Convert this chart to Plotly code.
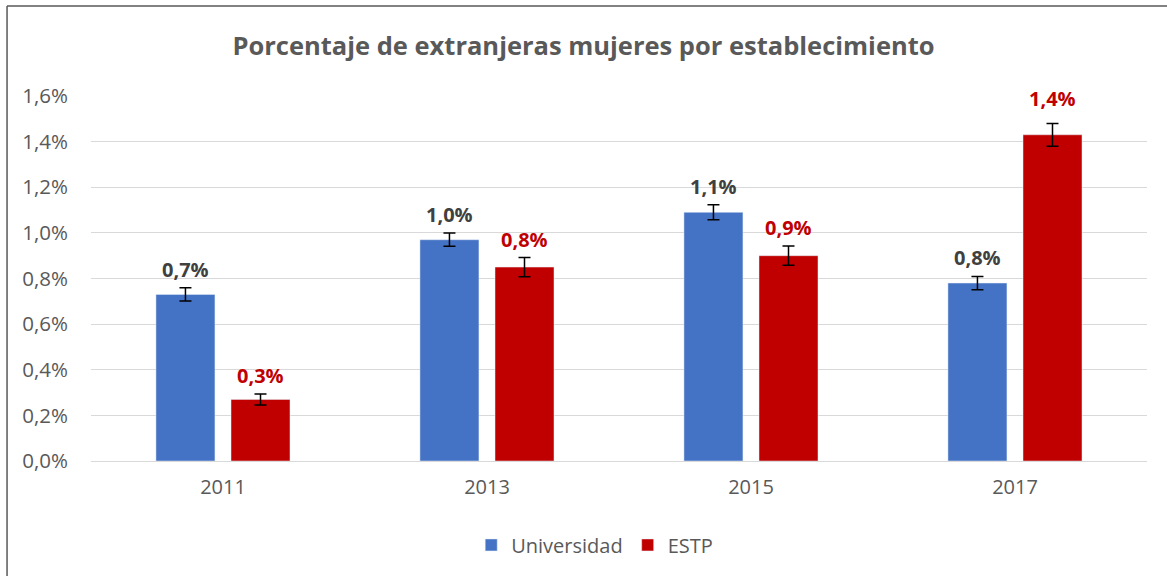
import plotly.graph_objects as go

years = ["2011", "2013", "2015", "2017"]
universidad = [0.0073, 0.0097, 0.0109, 0.0078]
estp = [0.0027, 0.0085, 0.0090, 0.0143]
err_univ = [0.00029, 0.00029, 0.00033, 0.00029]
err_estp = [0.00024, 0.00042, 0.00042, 0.00050]
label_univ = ["0,7%", "1,0%", "1,1%", "0,8%"]
label_estp = ["0,3%", "0,8%", "0,9%", "1,4%"]

BLUE = "#4472C4"
RED = "#C00000"
GREY_TXT = "#595959"
FONT = "Open Sans"

xs = list(range(len(years)))
bar_w = 0.2235
off_u = -0.254
off_e = 0.0303

fig = go.Figure()
fig.add_trace(go.Bar(
    x=xs, y=universidad, name="Universidad", marker_color=BLUE,
    width=bar_w, offset=off_u,
    error_y=dict(type="data", array=err_univ, color="black", thickness=1.5, width=6),
))
fig.add_trace(go.Bar(
    x=xs, y=estp, name="ESTP", marker_color=RED,
    width=bar_w, offset=off_e,
    error_y=dict(type="data", array=err_estp, color="black", thickness=1.5, width=6),
))

for i in xs:
    fig.add_annotation(x=i + off_u + bar_w / 2, y=universidad[i] + err_univ[i],
                       text=f"<b>{label_univ[i]}</b>", showarrow=False,
                       yanchor="bottom", yshift=3,
                       font=dict(family=FONT, size=20, color="#404040"))
    fig.add_annotation(x=i + off_e + bar_w / 2, y=estp[i] + err_estp[i],
                       text=f"<b>{label_estp[i]}</b>", showarrow=False,
                       yanchor="bottom", yshift=3 if i < 3 else 9,
                       font=dict(family=FONT, size=20, color=RED))

# outer frame (top and left edges)
fig.add_shape(type="line", xref="paper", yref="paper", x0=-0.0795, x1=1.02, y0=1.2466, y1=1.2466,
              line=dict(color="#595959", width=1.5))
fig.add_shape(type="line", xref="paper", yref="paper", x0=-0.0795, x1=-0.0795, y0=1.2466, y1=-0.33,
              line=dict(color="#595959", width=1.5))

fig.update_layout(
    width=1167, height=576,
    margin=dict(l=91, r=20, t=96, b=115),
    paper_bgcolor="white", plot_bgcolor="white",
    separators=",.",
    barmode="overlay",
    title=dict(text="<b>Porcentaje de extranjeras mujeres por establecimiento</b>",
               x=0.5, xanchor="center", y=1 - 46 / 576, yanchor="middle",
               font=dict(family=FONT, size=25.5, color=GREY_TXT)),
    xaxis=dict(tickvals=xs, ticktext=years, range=[-0.5, 3.5],
               showgrid=False, zeroline=False, showline=False, ticks="",
               ticklabelstandoff=12,
               tickfont=dict(family=FONT, size=20, color=GREY_TXT)),
    yaxis=dict(range=[0, 0.016], dtick=0.002, tickformat=".1%",
               showgrid=True, gridcolor="#D9D9D9", gridwidth=1.3,
               zeroline=True, zerolinecolor="#D9D9D9", zerolinewidth=1.3,
               showline=False, ticks="", ticklabelstandoff=22,
               tickfont=dict(family=FONT, size=20.5, color=GREY_TXT)),
    legend=dict(orientation="h", x=0.477, xanchor="center", y=-0.23, yanchor="middle",
                font=dict(family=FONT, size=20, color=GREY_TXT),
                itemwidth=30, traceorder="normal"),
    showlegend=True,
)

fig.write_html("out.html", config={"displayModeBar": False},
               post_script="document.body.style.margin='0px';")
